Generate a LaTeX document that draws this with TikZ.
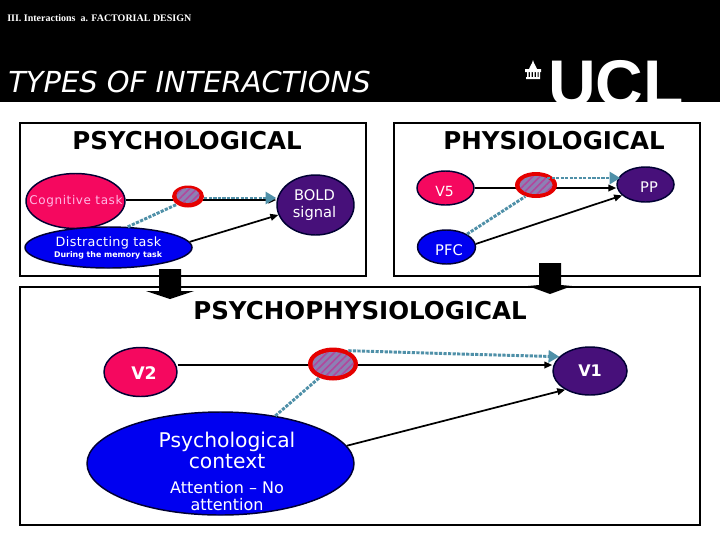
\documentclass[tikz,border=0pt]{standalone}
\usepackage{fontspec}
\setmainfont{DejaVu Sans}
\newfontfamily\serifhead{Liberation Serif}
\newfontfamily\uclfont{Liberation Sans}
\usetikzlibrary{shapes.geometric,arrows.meta,patterns.meta}
\definecolor{cogpink}{HTML}{F5085F}
\definecolor{deeppurple}{HTML}{47107A}
\definecolor{pureblue}{HTML}{0000F0}
\definecolor{dotblue}{HTML}{4F90A8}
\definecolor{hatchbase}{HTML}{8C80B4}
\definecolor{hatchline}{HTML}{B2479C}
\definecolor{softpink}{HTML}{FFB8E4}
\tikzset{
  x=0.75pt,y=-0.75pt,
  sz/.style 2 args={minimum width=#1*0.75pt,minimum height=#2*0.75pt},
  panel/.style={draw=black,line width=1.5pt,fill=white},
  heading/.style={font=\fontsize{18.4}{22}\selectfont\bfseries,text=black,inner sep=0},
  oval/.style={ellipse,draw=black!80!blue,line width=1.1pt,inner sep=0,text=white,align=center},
  cogoval/.style={oval,fill=cogpink},
  taskoval/.style={oval,fill=pureblue},
  outoval/.style={oval,fill=deeppurple},
  redoval/.style={ellipse,fill=red!90!black,draw=none,inner sep=0},
  hatched/.style={ellipse,fill=hatchbase,draw=none,inner sep=0,
    postaction={pattern={Lines[angle=45,distance=3.9pt,line width=1.2pt]},pattern color=hatchline}},
  solidarrow/.style={draw=black,line width=1.3pt,-{Triangle[length=6pt,width=5pt]}},
  dotted link/.style={draw=dotblue,line width=2.2pt,dash pattern=on 2.4pt off 1pt},
  dotted arrow/.style={dotted link,-{Triangle[length=8pt,width=9pt,fill=dotblue]}},
  blockarrow/.style={fill=black,draw=none},
  lab/.style={inner sep=0,text=white,align=center}
}
\begin{document}
\begin{tikzpicture}
\useasboundingbox (0,0) rectangle (720,540);
\fill[white] (0,0) rectangle (720,540);
\fill[black] (0,0) rectangle (720,102);
% header
\node[anchor=west,inner sep=0,text=white,font=\serifhead\fontsize{7.5}{10}\selectfont\bfseries] (crumb) at (7,18) {III. Interactions\ \ a. FACTORIAL DESIGN};
\node[anchor=west,inner sep=0,text=white,font=\fontsize{21.7}{26}\selectfont\itshape] (title) at (8,82) {TYPES OF INTERACTIONS};
\node[anchor=base west,inner sep=0,text=white,font=\uclfont\fontsize{49.5}{50}\selectfont\bfseries] (ucl) at (548,106) {UCL};
% logo building
\fill[white] (525,69) rectangle (541,72) (526,77) rectangle (540,79);
\fill[white] (527,72) rectangle (528.5,77) (530,72) rectangle (531.5,77) (533,72) rectangle (534.5,77) (536,72) rectangle (537.5,77) (538.5,72) rectangle (540,77);
\fill[white] (529,69) .. controls (530,65) and (532,65) .. (533,60) .. controls (534,65) and (536,65) .. (537,69) -- cycle;
% panels
\draw[panel] (20,123) rectangle (366,276);
\draw[panel] (393.5,123) rectangle (700,276);
\draw[panel] (20,287) rectangle (700,525);
\node[heading] (h1) at (187,141) {PSYCHOLOGICAL};
\node[heading] (h2) at (554,141) {PHYSIOLOGICAL};
\node[heading] (h3) at (360,311) {PSYCHOPHYSIOLOGICAL};
% block arrows
\fill[blockarrow] (159,269) -- (181,269) -- (181,291) -- (194,291) -- (170,299) -- (146,291) -- (159,291) -- cycle;
\fill[blockarrow] (539,263) -- (561,263) -- (561,285) -- (572,286) -- (550,294) -- (528,286) -- (539,285) -- cycle;
% psychological
\node[cogoval,sz={99}{55}] (cog) at (75.5,201) {};
\node[lab,text=softpink,font=\fontsize{9}{11}\selectfont\addfontfeature{LetterSpace=5}] (cogt) at (76,201) {Cognitive task};
\node[taskoval,sz={167}{41}] (dis) at (108.5,247.5) {};
\node[lab,font=\fontsize{9.6}{12}\selectfont\addfontfeature{LetterSpace=2.5}] (dist) at (108.5,242.5) {Distracting task};
\node[lab,font=\fontsize{5.9}{8}\selectfont\bfseries] (diss) at (108,255.5) {During the memory task};
\node[outoval,sz={77}{60},font=\fontsize{11}{12.75}\selectfont] (bold) at (315.5,205) {};
\node[lab,font=\fontsize{11}{12.75}\selectfont] (boldt) at (314.5,205) {BOLD\\signal};
\draw[solidarrow] (cog.east |- 0,200) -- (bold.west |- 0,200);
\draw[solidarrow] (dis.4) -- (bold.195);
\node[redoval,sz={32}{22}] (r1) at (188,196.5) {};
\node[hatched,sz={23}{15}] (r1h) at (188,195.5) {};
\draw[dotted arrow] (r1.east |- 0,198) -- (bold.west |- 0,198);
\draw[dotted link] (dis.47) -- (r1.215);
% physiological
\node[cogoval,sz={57}{34}] (v5) at (445.5,188) {};
\node[lab,font=\fontsize{10.5}{13}\selectfont] (v5t) at (444.5,191) {V5};
\node[taskoval,sz={58}{34}] (pfc) at (446.5,247) {};
\node[lab,font=\fontsize{11}{13}\selectfont] (pfct) at (449,250) {PFC};
\node[outoval,sz={57}{35}] (pp) at (645.5,184.5) {};
\node[lab,font=\fontsize{11}{13}\selectfont] (ppt) at (649,187) {PP};
\draw[solidarrow] (v5.east) -- (pp.west |- v5.east);
\draw[solidarrow] (pfc.6) -- (pp.205);
\node[redoval,sz={42}{26}] (r2) at (536,185) {};
\node[hatched,sz={33}{18}] (r2h) at (536,185) {};
\coordinate (r2top) at (547,178);
\draw[dotted arrow] (r2top) -- (pp.west |- r2top) -- ++(4,0);
\draw[dotted link] (pfc.32) -- (r2.227);
% psychophysiological
\node[cogoval,sz={73}{49}] (v2) at (140.5,372) {};
\node[lab,font=\fontsize{13}{15}\selectfont\bfseries] (v2t) at (144,373) {V2};
\node[taskoval,sz={267}{103}] (ctx) at (220.5,463.5) {};
\node[lab,font=\fontsize{15.2}{15.75}\selectfont] (ctxt) at (227,450) {Psychological\\context};
\node[lab,font=\fontsize{12}{13}\selectfont] (ctxs) at (227,496) {Attention -- No\\attention};
\node[outoval,sz={74}{48}] (v1) at (590,371) {};
\node[lab,font=\fontsize{12}{15}\selectfont\bfseries] (v1t) at (590,371) {V1};
\draw[solidarrow] (v2.east |- 0,365) -- (v1.west |- 0,365);
\draw[solidarrow] (ctx.8) -- (v1.217);
\node[redoval,sz={50}{33}] (r3) at (333,364) {};
\node[hatched,sz={41}{24}] (r3h) at (333,364) {};
\coordinate (bend3) at (460,354);
\draw[dotted arrow] (r3.41) -- (bend3) -- (v1.155);
\draw[dotted link] (ctx.41) -- (r3.225);
\end{tikzpicture}
\end{document}
